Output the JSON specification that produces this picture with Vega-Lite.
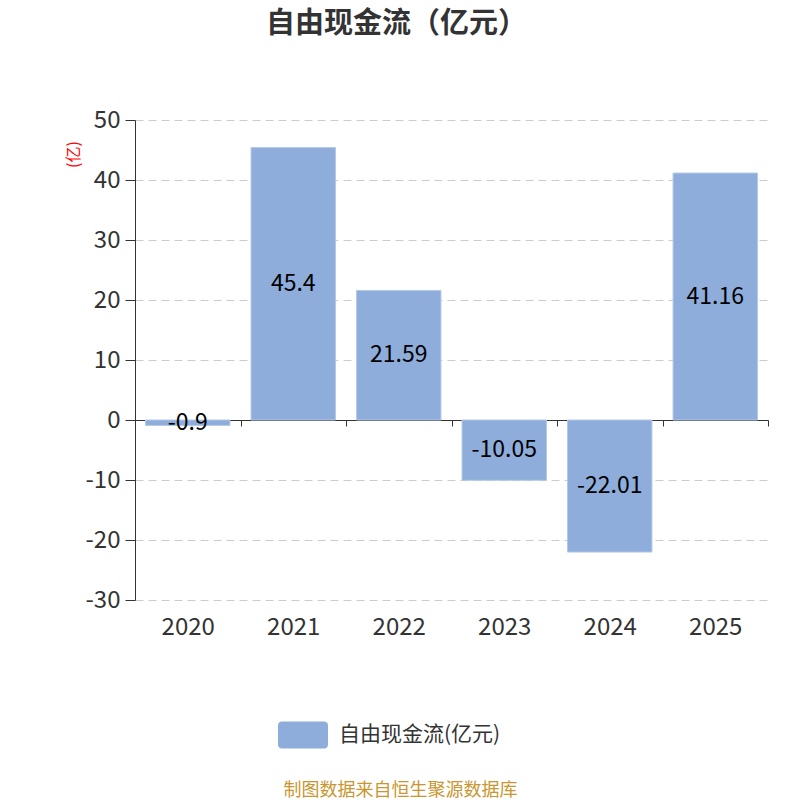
{
  "$schema": "https://vega.github.io/schema/vega-lite/v6.json",
  "width": 633,
  "height": 480,
  "autosize": {"type": "none"},
  "padding": {"left": 135, "top": 120, "right": 32, "bottom": 200},
  "background": "white",
  "config": {
    "view": {"stroke": "transparent"},
    "font": "Noto Sans CJK SC"
  },
  "title": {
    "text": "自由现金流（亿元）",
    "fontSize": 29,
    "fontWeight": "bold",
    "color": "#333333",
    "anchor": "middle",
    "baseline": "middle",
    "offset": 55,
    "dx": -55
  },
  "data": {
    "values": [
      {"year": "2020", "value": -0.9},
      {"year": "2021", "value": 45.4},
      {"year": "2022", "value": 21.59},
      {"year": "2023", "value": -10.05},
      {"year": "2024", "value": -22.01},
      {"year": "2025", "value": 41.16}
    ]
  },
  "transform": [
    {"calculate": "datum.value / 2", "as": "mid"}
  ],
  "encoding": {
    "x": {
      "field": "year",
      "type": "nominal",
      "sort": null,
      "scale": {"paddingInner": 0, "paddingOuter": 0},
      "axis": {
        "offset": -180,
        "tickBand": "extent",
        "tickSize": 6,
        "tickColor": "#333333",
        "domainColor": "#333333",
        "labelAngle": 0,
        "labelPadding": 189,
        "labelFontSize": 24,
        "labelColor": "#333333",
        "grid": false,
        "title": "制图数据来自恒生聚源数据库",
        "titleFontSize": 18,
        "titleFontWeight": "normal",
        "titleColor": "#C9962F",
        "titleX": 265,
        "titleY": 370,
        "titleAlign": "center",
        "titleBaseline": "middle"
      }
    }
  },
  "layer": [
    {
      "mark": {"type": "bar", "width": {"band": 0.8}, "stroke": "#B3C8E8", "strokeWidth": 1},
      "encoding": {
        "y": {
          "field": "value",
          "type": "quantitative",
          "scale": {"domain": [-30, 50], "nice": false},
          "axis": {
            "values": [-30, -20, -10, 0, 10, 20, 30, 40, 50],
            "labelExpr": "datum.value + ''",
            "grid": true,
            "gridDash": [8, 5],
            "gridColor": "#CCCCCC",
            "domainColor": "#333333",
            "tickColor": "#333333",
            "tickSize": 10,
            "labelPadding": 5,
            "labelFontSize": 24,
            "labelColor": "#333333",
            "title": "(亿)",
            "titleColor": "#FF0000",
            "titleFontSize": 16,
            "titleFontWeight": "normal",
            "titleAngle": -90,
            "titleX": -62,
            "titleY": 34,
            "titleAlign": "center",
            "titleBaseline": "middle"
          }
        },
        "color": {
          "datum": "自由现金流(亿元)",
          "scale": {"range": ["#8EADDB"]},
          "legend": {
            "title": null,
            "orient": "none",
            "legendX": 143,
            "legendY": 590,
            "symbolType": "M-0.85,-0.54 H0.85 A0.15,0.15 0 0 1 1,-0.39 V0.39 A0.15,0.15 0 0 1 0.85,0.54 H-0.85 A0.15,0.15 0 0 1 -1,0.39 V-0.39 A0.15,0.15 0 0 1 -0.85,-0.54 Z",
            "symbolSize": 2500,
            "symbolStrokeWidth": 0,
            "symbolOpacity": 1,
            "labelFontSize": 21,
            "labelColor": "#333333",
            "labelOffset": 11,
            "labelLimit": 400
          }
        }
      }
    },
    {
      "mark": {"type": "text", "fontSize": 23, "color": "#000000", "baseline": "middle"},
      "encoding": {
        "y": {"field": "mid", "type": "quantitative"},
        "text": {"field": "value", "type": "nominal"}
      }
    }
  ]
}
